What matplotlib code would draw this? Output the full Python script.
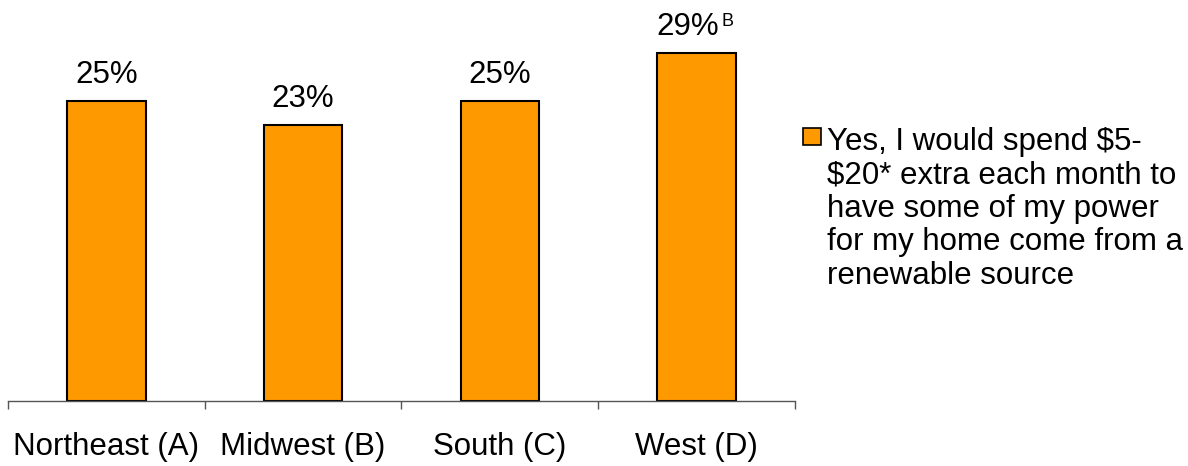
import matplotlib
matplotlib.use('Agg')
import matplotlib.pyplot as plt
from matplotlib.patches import Rectangle

plt.rcParams['font.family'] = ['Liberation Sans', 'DejaVu Sans']

# data
regions = ['Northeast (A)', 'Midwest (B)', 'South (C)', 'West (D)']
values = [25, 23, 25, 29]
labels = ['25%', '23%', '25%', '29%']
sig_marks = ['', '', '', 'B']
legend_label = ('Yes, I would spend $5-\n$20* extra each month to\n'
                'have some of my power\nfor my home come from a\nrenewable source')

bar_color = '#FF9900'
fs = 22.5

fig = plt.figure(figsize=(11.88, 4.66), dpi=100)
ax = fig.add_axes([8 / 1188, 65 / 466, 787 / 1188, 401 / 466])

x = range(len(regions))
ax.bar(x, values, width=0.4, color=bar_color, edgecolor='black', linewidth=1.5)

for i, (v, lab, sig) in enumerate(zip(values, labels, sig_marks)):
    if sig:
        # value + superscript letter, centred together over the bar
        ax.annotate(lab, (i, v), xytext=(16.2, 13), textcoords='offset points',
                    ha='right', va='baseline', fontsize=fs)
        ax.annotate(sig, (i, v), xytext=(18.0, 19.5), textcoords='offset points',
                    ha='left', va='baseline', fontsize=13)
    else:
        ax.annotate(lab, (i, v), xytext=(0, 13), textcoords='offset points',
                    ha='center', va='baseline', fontsize=fs)

ax.set_xlim(-0.5, 3.5)
ax.set_ylim(0, 401 / 12)

for s in ['top', 'right', 'left']:
    ax.spines[s].set_visible(False)
ax.spines['bottom'].set_color('#555555')
ax.spines['bottom'].set_linewidth(1.0)
ax.set_yticks([])

ax.set_xticks(list(x))
ax.set_xticklabels(regions, fontsize=fs)
ax.set_xticks([-0.5, 0.5, 1.5, 2.5, 3.5], minor=True)
ax.tick_params(axis='x', which='major', length=0, pad=22.5)
ax.tick_params(axis='x', which='minor', length=6, width=1.0, color='#555555', direction='out')

# legend drawn by hand (text anchored at the baseline of its last line)
fig.patches.append(Rectangle((803 / 1188, 321 / 466), 18 / 1188, 17 / 466,
                             transform=fig.transFigure, facecolor=bar_color,
                             edgecolor='black', linewidth=1.2))
fig.text(827 / 1188, 182.3 / 466, legend_label, ha='left', va='baseline', fontsize=fs,
         linespacing=1.15)

fig.savefig('out.png', dpi=100)
